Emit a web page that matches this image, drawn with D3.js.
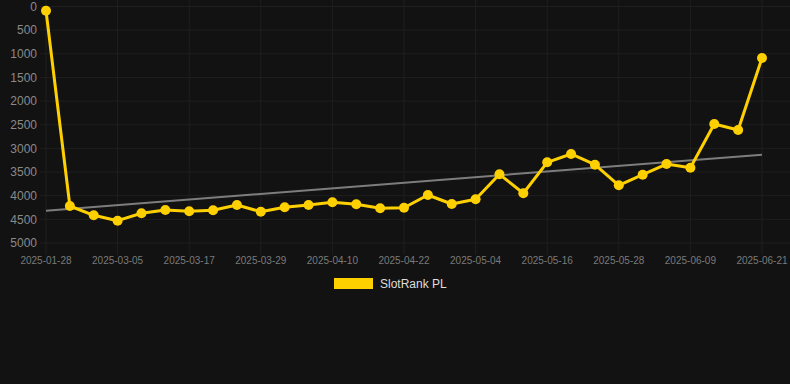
<!DOCTYPE html>
<html>
<head>
<meta charset="utf-8">
<script src="https://cdn.jsdelivr.net/npm/d3@7/dist/d3.min.js"></script>
<style>
  html, body { margin: 0; padding: 0; background: #121212; }
  svg { display: block; }
  text { font-family: "Liberation Sans", Arial, sans-serif; }
</style>
</head>
<body>
<svg id="chart" width="790" height="384"></svg>
<script>
const dates = ["2025-01-28","2025-02-21","2025-03-01","2025-03-05","2025-03-09","2025-03-13","2025-03-17","2025-03-21","2025-03-25","2025-03-29","2025-04-02","2025-04-06","2025-04-10","2025-04-14","2025-04-18","2025-04-22","2025-04-26","2025-04-30","2025-05-04","2025-05-08","2025-05-12","2025-05-16","2025-05-20","2025-05-24","2025-05-28","2025-06-01","2025-06-05","2025-06-09","2025-06-13","2025-06-17","2025-06-21"];
const ranks = [89,4218,4414,4528,4372,4302,4330,4309,4197,4338,4245,4197,4140,4182,4266,4254,3985,4175,4076,3548,3949,3294,3118,3345,3780,3556,3330,3408,2484,2611,1089];
const trend = [4318, 3133];
const yTicks = [0,500,1000,1500,2000,2500,3000,3500,4000,4500,5000];
const xTickLabels = ["2025-01-28","2025-03-05","2025-03-17","2025-03-29","2025-04-10","2025-04-22","2025-05-04","2025-05-16","2025-05-28","2025-06-09","2025-06-21"];
const seriesName = "SlotRank PL";

const svg = d3.select("#chart");
const x = d3.scalePoint().domain(dates).range([46, 762]);
const y = d3.scaleLinear().domain([0, 5000]).range([6.5, 243]);

// horizontal grid
svg.append("g").selectAll("line").data(yTicks).join("line")
  .attr("x1", 40).attr("x2", 790)
  .attr("y1", d => y(d)).attr("y2", d => y(d))
  .attr("stroke", "#1f1f1f").attr("stroke-width", 1);

// vertical grid
svg.append("g").selectAll("line").data(xTickLabels).join("line")
  .attr("x1", d => x(d)).attr("x2", d => x(d))
  .attr("y1", 0).attr("y2", 255)
  .attr("stroke", "#1f1f1f").attr("stroke-width", 1);

// y labels
svg.append("g").selectAll("text").data(yTicks).join("text")
  .attr("x", 37).attr("y", d => y(d)).attr("dy", "0.35em")
  .attr("text-anchor", "end").attr("fill", "#8a8a8a").attr("font-size", 12)
  .text(d => d);

// x labels
svg.append("g").selectAll("text").data(xTickLabels).join("text")
  .attr("x", d => x(d)).attr("y", 260).attr("dy", "0.35em")
  .attr("text-anchor", "middle").attr("fill", "#7a7a7a").attr("font-size", 10)
  .text(d => d);

// trend line
svg.append("line")
  .attr("x1", x(dates[0])).attr("y1", y(trend[0]))
  .attr("x2", x(dates[dates.length-1])).attr("y2", y(trend[1]))
  .attr("stroke", "#7d7d7d").attr("stroke-width", 2);

const data = dates.map((d, i) => ({d, v: ranks[i]}));
const line = d3.line().x(p => x(p.d)).y(p => y(p.v));
svg.append("path").datum(data)
  .attr("d", line).attr("fill", "none")
  .attr("stroke", "#ffd000").attr("stroke-width", 3).attr("stroke-linejoin", "round");

svg.append("g").selectAll("circle").data(data).join("circle")
  .attr("cx", p => x(p.d)).attr("cy", p => y(p.v)).attr("r", 5)
  .attr("fill", "#ffd000");

// legend
const lg = svg.append("g");
lg.append("rect").attr("x", 334).attr("y", 278).attr("width", 39).attr("height", 11).attr("fill", "#ffd000");
lg.append("text").attr("x", 380).attr("y", 284).attr("dy", "0.35em")
  .attr("fill", "#dddddd").attr("font-size", 12).text(seriesName);
</script>
</body>
</html>
